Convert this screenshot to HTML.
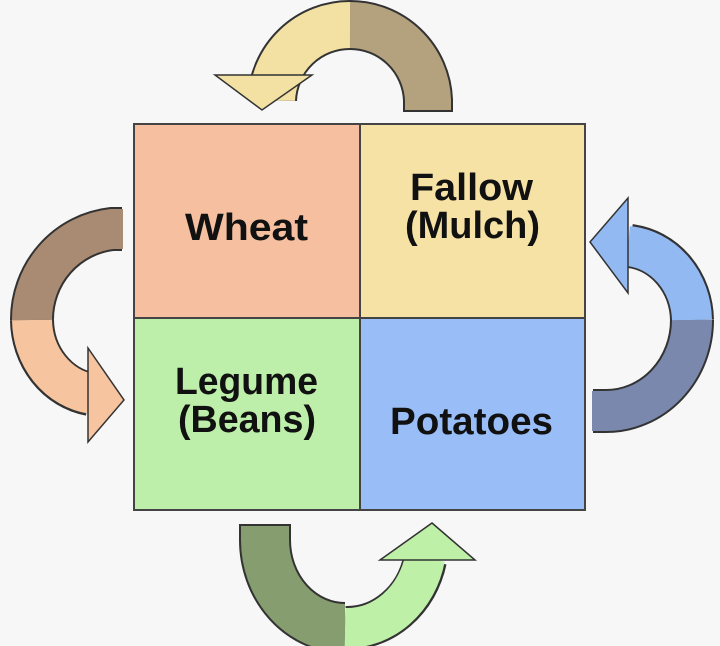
<!DOCTYPE html>
<html><head><meta charset="utf-8"><style>
html,body{margin:0;padding:0;background:#f7f7f7;}
svg{display:block}
text{font-family:"Liberation Sans Narrow","Liberation Sans",sans-serif;font-weight:bold;font-size:38px;fill:#111;}
</style></head><body>
<svg width="720" height="646" viewBox="0 0 720 646">
<rect width="720" height="646" fill="#f7f7f7"/>
<path d="M428 112 L428 100 A78 78 0 0 0 350 25" fill="none" stroke="#333" stroke-width="50"/>
<path d="M428 110 L428 100 A78 78 0 0 0 350 25" fill="none" stroke="#b3a27d" stroke-width="46"/>
<path d="M350 25 A78 78 0 0 0 272 100 L272 80" fill="none" stroke="#333" stroke-width="50"/>
<path d="M350 25 A78 78 0 0 0 272 100 L272 78" fill="none" stroke="#f3e1a3" stroke-width="46"/>
<polygon points="215,75 312,75 262,110" fill="#f3e1a3" stroke="#333" stroke-width="1.5"/>
<path d="M122 229 L112 229 A90 91 0 0 0 32 320" fill="none" stroke="#333" stroke-width="44"/>
<path d="M123 229 L112 229 A90 91 0 0 0 32 320" fill="none" stroke="#a88b72" stroke-width="40"/>
<path d="M32 320 A70 76 0 0 0 90 394" fill="none" stroke="#333" stroke-width="44"/>
<path d="M32 320 A70 76 0 0 0 92 394" fill="none" stroke="#f6c49e" stroke-width="40"/>
<polygon points="88,348 124,400 88,442" fill="#f6c49e" stroke="#333" stroke-width="1.5"/>
<path d="M593 411 L606 411 A86 91 0 0 0 692 320" fill="none" stroke="#333" stroke-width="44"/>
<path d="M592 411 L606 411 A86 91 0 0 0 692 320" fill="none" stroke="#7b88ad" stroke-width="40"/>
<path d="M692 320 A70 76 0 0 0 630 246" fill="none" stroke="#333" stroke-width="44"/>
<path d="M692 320 A70 76 0 0 0 628 246" fill="none" stroke="#93b9f3" stroke-width="40"/>
<polygon points="628,198 590,242 628,293" fill="#93b9f3" stroke="#333" stroke-width="1.5"/>
<path d="M265 524 L265 540 A80 88 0 0 0 345 628" fill="none" stroke="#333" stroke-width="52"/>
<path d="M265 526 L265 540 A80 88 0 0 0 345 628" fill="none" stroke="#869d6f" stroke-width="48"/>
<path d="M345 628 A80 88 0 0 0 425 560" fill="none" stroke="#333" stroke-width="44"/>
<path d="M345 628 A80 88 0 0 0 425 558" fill="none" stroke="#bff0a8" stroke-width="40"/>
<polygon points="380,560 432,523 475,560" fill="#bff0a8" stroke="#333" stroke-width="1.5"/>
<rect x="134" y="124" width="226" height="194" fill="#f6c0a0" stroke="#444" stroke-width="2"/>
<rect x="360" y="124" width="225" height="194" fill="#f6e2a4" stroke="#444" stroke-width="2"/>
<rect x="134" y="318" width="226" height="192" fill="#bdefaa" stroke="#444" stroke-width="2"/>
<rect x="360" y="318" width="225" height="192" fill="#99bdf6" stroke="#444" stroke-width="2"/>
<text x="185" y="240" textLength="123" lengthAdjust="spacingAndGlyphs">Wheat</text>
<text x="410" y="200" textLength="123" lengthAdjust="spacingAndGlyphs">Fallow</text>
<text x="405" y="238" textLength="135" lengthAdjust="spacingAndGlyphs">(Mulch)</text>
<text x="175" y="394" textLength="143" lengthAdjust="spacingAndGlyphs">Legume</text>
<text x="178" y="432" textLength="138" lengthAdjust="spacingAndGlyphs">(Beans)</text>
<text x="390" y="434" textLength="163" lengthAdjust="spacingAndGlyphs">Potatoes</text>
</svg>
</body></html>
